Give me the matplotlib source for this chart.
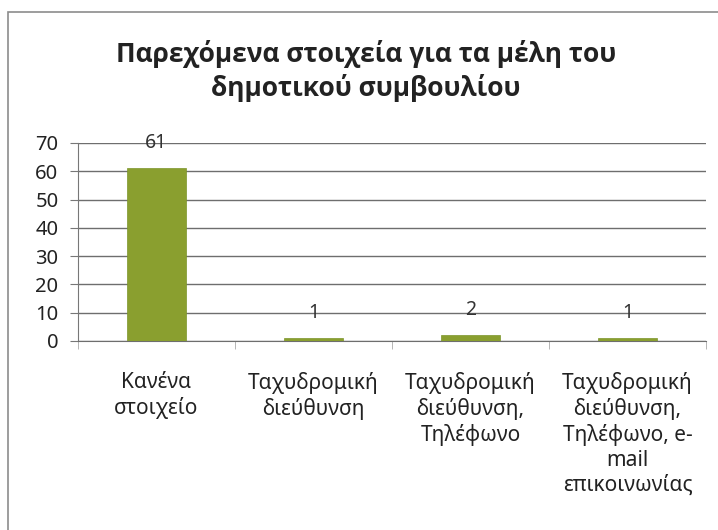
import matplotlib.pyplot as plt
from matplotlib.patches import Rectangle

# Council member contact details provided
categories = ['Κανένα\nστοιχείο',
              'Ταχυδρομική\nδιεύθυνση',
              'Ταχυδρομική\nδιεύθυνση,\nΤηλέφωνο',
              'Ταχυδρομική\nδιεύθυνση,\nΤηλέφωνο, e-\nmail\nεπικοινωνίας']
counts = [61, 1, 2, 1]
y_ticks = [0, 10, 20, 30, 40, 50, 60, 70]

plt.rcParams['font.family'] = ['Noto Sans', 'DejaVu Sans']

fig = plt.figure(figsize=(7.18, 5.30), dpi=100)
fig.patch.set_facecolor('white')

# outer chart frame
fig.patches.append(Rectangle((8 / 718, -0.05), 1.2, 1 - 12 / 530 + 0.05,
                             transform=fig.transFigure, fill=False,
                             edgecolor='#8c8c8c', linewidth=1.2))

ax = fig.add_axes([78 / 718, 189 / 530, 628 / 718, 198 / 530])
x = range(len(categories))
ax.bar(x, counts, width=0.38, color='#8a9f2f', edgecolor='#7c952a', linewidth=0.5, zorder=3)

for xi, v in zip(x, counts):
    ax.annotate(str(v), (xi, v), xytext=(0, 18), textcoords='offset points',
                ha='center', va='center', fontsize=14, color='#333333', zorder=4)

ax.set_xlim(-0.5, len(categories) - 0.5)
ax.set_ylim(0, 70)
ax.set_yticks(y_ticks)
ax.tick_params(axis='y', labelsize=14.5, length=6, color='#777777', labelcolor='#222222', pad=8)
ax.yaxis.grid(True, color='#6e6e6e', linewidth=1)
ax.set_axisbelow(True)

ax.set_xticks(list(x))
ax.set_xticklabels(categories, fontsize=15, color='#222222', linespacing=1.25, va='top')
ax.set_xticks([i - 0.5 for i in range(len(categories) + 1)], minor=True)
ax.tick_params(axis='x', which='major', length=0, pad=22)
ax.tick_params(axis='x', which='minor', length=6, color='#aaaaaa')

for side in ['top', 'right']:
    ax.spines[side].set_visible(False)
ax.spines['left'].set_color('#777777')
ax.spines['bottom'].set_color('#6e6e6e')

fig.text(0.51, 0.866, 'Παρεχόμενα στοιχεία για τα μέλη του\nδημοτικού συμβουλίου',
         ha='center', va='center', fontsize=19, fontweight='bold', color='#222222',
         linespacing=1.3, family=['Open Sans', 'DejaVu Sans'])

fig.savefig('out.png', dpi=100)
